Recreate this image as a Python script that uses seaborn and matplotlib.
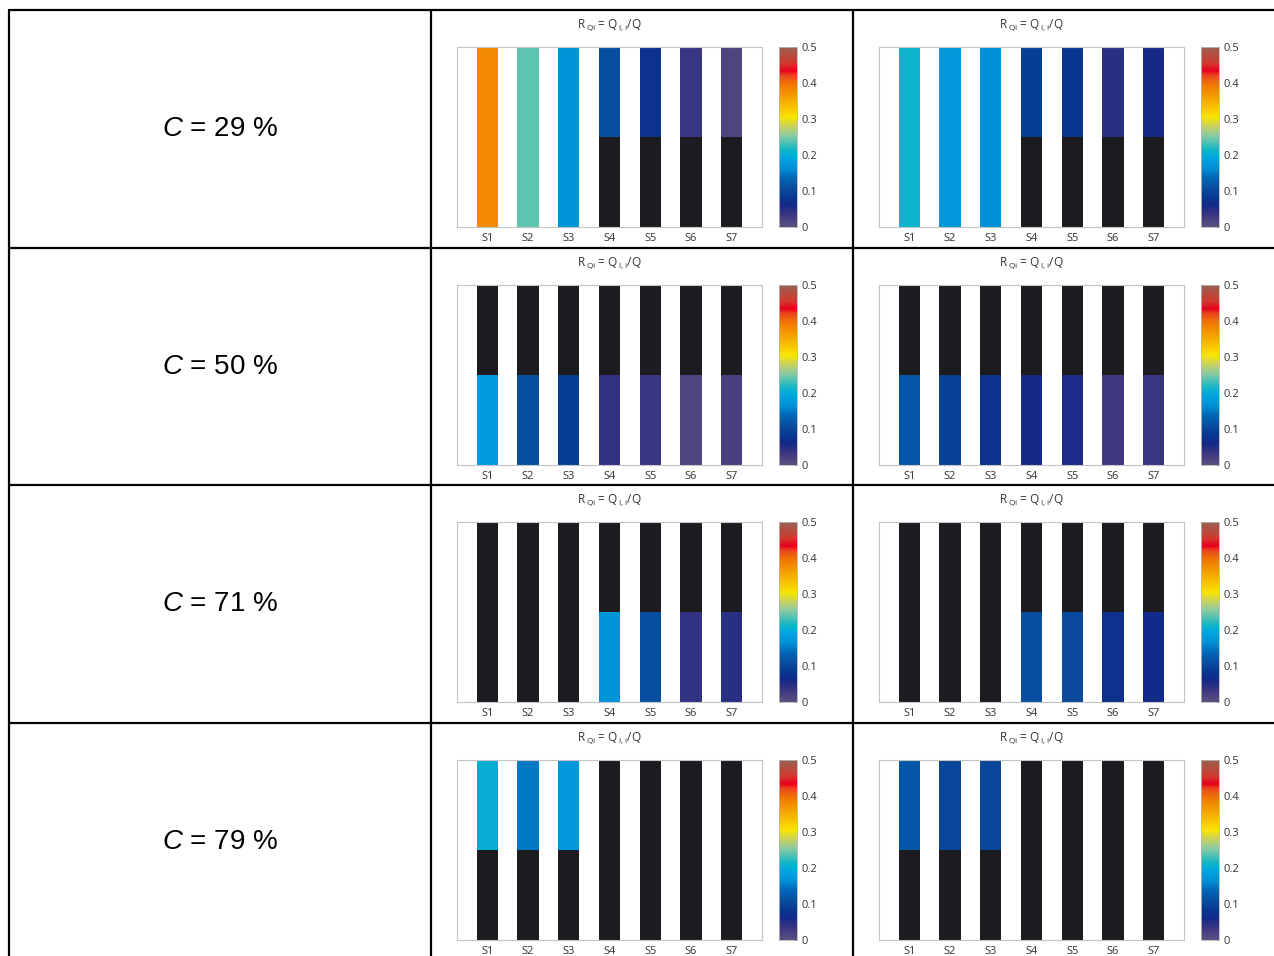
import numpy as np
import pandas as pd
import matplotlib
matplotlib.use("Agg")
import matplotlib.pyplot as plt
import seaborn as sns
from matplotlib.colors import LinearSegmentedColormap, Normalize
from matplotlib.cm import ScalarMappable
from matplotlib.lines import Line2D

nan = np.nan

# Data: share R_Qi = Q_I,i / Q for each station, lower and upper layer
# (nan = no inflow, drawn black)
stations = ["S1", "S2", "S3", "S4", "S5", "S6", "S7"]
coverage = [29, 50, 71, 79]
layer_share = [0.5, 0.5]  # lower, upper part of each column

case_a_lower = [
    [0.38, 0.24, 0.17, nan, nan, nan, nan],
    [0.18, 0.11, 0.09, 0.04, 0.035, 0.015, 0.02],
    [nan, nan, nan, 0.17, 0.11, 0.04, 0.045],
    [nan, nan, nan, nan, nan, nan, nan],
]
case_a_upper = [
    [0.38, 0.24, 0.17, 0.11, 0.075, 0.035, 0.015],
    [nan, nan, nan, nan, nan, nan, nan],
    [nan, nan, nan, nan, nan, nan, nan],
    [0.205, 0.15, 0.175, nan, nan, nan, nan],
]
case_b_lower = [
    [0.21, 0.175, 0.165, nan, nan, nan, nan],
    [0.12, 0.095, 0.075, 0.06, 0.055, 0.03, 0.035],
    [nan, nan, nan, 0.11, 0.105, 0.075, 0.065],
    [nan, nan, nan, nan, nan, nan, nan],
]
case_b_upper = [
    [0.21, 0.175, 0.165, 0.09, 0.08, 0.045, 0.06],
    [nan, nan, nan, nan, nan, nan, nan],
    [nan, nan, nan, nan, nan, nan, nan],
    [0.12, 0.1, 0.1, nan, nan, nan, nan],
]

cbar_ticks = [0, 0.1, 0.2, 0.3, 0.4, 0.5]
cbar_labels = ["0", "0.1", "0.2", "0.3", "0.4", "0.5"]

# colour scale, roughly the one used in the figure
anchors = [
    (0.00, "#5a5080"), (0.06, "#3e3880"), (0.12, "#142888"), (0.17, "#063a92"),
    (0.21, "#0a4a9c"), (0.27, "#0064b4"), (0.33, "#0090d8"), (0.39, "#00a6e0"),
    (0.43, "#12b6c6"), (0.47, "#50c2b4"), (0.51, "#8ccaa0"), (0.56, "#c8d25e"),
    (0.61, "#f8e600"), (0.67, "#f8be00"), (0.73, "#f49a00"), (0.79, "#f07800"),
    (0.84, "#ea4a1c"), (0.87, "#e8001e"), (0.91, "#d2382c"), (1.00, "#9a6052"),
]
cmap = LinearSegmentedColormap.from_list("rq", anchors)
norm = Normalize(0, 0.5)
dry = "#1c1b1f"

sns.set_theme(style="white")
plt.rcParams["font.family"] = ["Open Sans", "DejaVu Sans"]
plt.rcParams["mathtext.fontset"] = "custom"
plt.rcParams["mathtext.it"] = "Liberation Sans:italic"
plt.rcParams["mathtext.rm"] = "Liberation Sans"

W, H = 1274, 956
fig = plt.figure(figsize=(W / 100, H / 100), dpi=100)


def box(x0, y0, x1, y1):
    return [x0 / W, 1 - y1 / H, (x1 - x0) / W, (y1 - y0) / H]


def hline(y, x0, x1):
    fig.add_artist(Line2D([x0 / W, x1 / W], [1 - y / H, 1 - y / H], color="black", lw=1.6))


def vline(x, y0, y1):
    fig.add_artist(Line2D([x / W, x / W], [1 - y0 / H, 1 - y1 / H], color="black", lw=1.6))


def colours(vals):
    return [dry if np.isnan(v) else cmap(norm(v)) for v in vals]


def draw_panel(row_top, dx, lower, upper):
    top = row_top + 37
    ax = fig.add_axes(box(457 + dx, top, 762 + dx, top + 180))
    df = pd.DataFrame({"station": stations,
                       "full": [layer_share[0] + layer_share[1]] * len(stations),
                       "low": [layer_share[0]] * len(stations)})
    sns.barplot(data=df, x="station", y="full", hue="station",
                palette=dict(zip(stations, colours(upper))), width=0.52,
                saturation=1, linewidth=0, legend=False, ax=ax)
    sns.barplot(data=df, x="station", y="low", hue="station",
                palette=dict(zip(stations, colours(lower))), width=0.52,
                saturation=1, linewidth=0, legend=False, ax=ax)
    ax.set_xlim(-0.745, 6.745)
    ax.set_ylim(0, 1)
    ax.set_xlabel("")
    ax.set_ylabel("")
    ax.set_yticks([])
    ax.tick_params(axis="x", length=0, pad=4, labelsize=8, colors="#333333")
    for s in ax.spines.values():
        s.set_color("#c4c4c4")
        s.set_linewidth(0.8)
    ax.text(0.5, 1 + 22 / 180,
            r"R$\,_{\mathregular{Qi}}$ = Q$\,_{\mathregular{I,i}}$/Q",
            transform=ax.transAxes, ha="center", va="center", fontsize=8.5,
            color="#333333")

    cax = fig.add_axes(box(779 + dx, top, 797 + dx, top + 180))
    cb = fig.colorbar(ScalarMappable(norm=norm, cmap=cmap), cax=cax, ticks=cbar_ticks)
    cb.ax.set_yticklabels(cbar_labels)
    cb.outline.set_edgecolor("#b8b8b8")
    cb.outline.set_linewidth(0.6)
    cb.ax.tick_params(length=2, width=0.5, direction="in", labelsize=8,
                      colors="#333333", pad=3)


row_tops = [10, 248, 485, 723]
for i, c in enumerate(coverage):
    rt = row_tops[i]
    fig.text(220 / W, 1 - (rt + 119) / H, f"$C$ = {c} %", ha="center", va="center",
             fontsize=20, family="Liberation Sans", color="black")
    draw_panel(rt, 0, case_a_lower[i], case_a_upper[i])
    draw_panel(rt, 422, case_b_lower[i], case_b_upper[i])

# table lines
hline(10, 9, W)
for y in row_tops[1:]:
    hline(y, 9, W)
vline(9, 10, H)
vline(431, 10, H)
vline(853, 10, H)

fig.savefig("out.png", dpi=100)
